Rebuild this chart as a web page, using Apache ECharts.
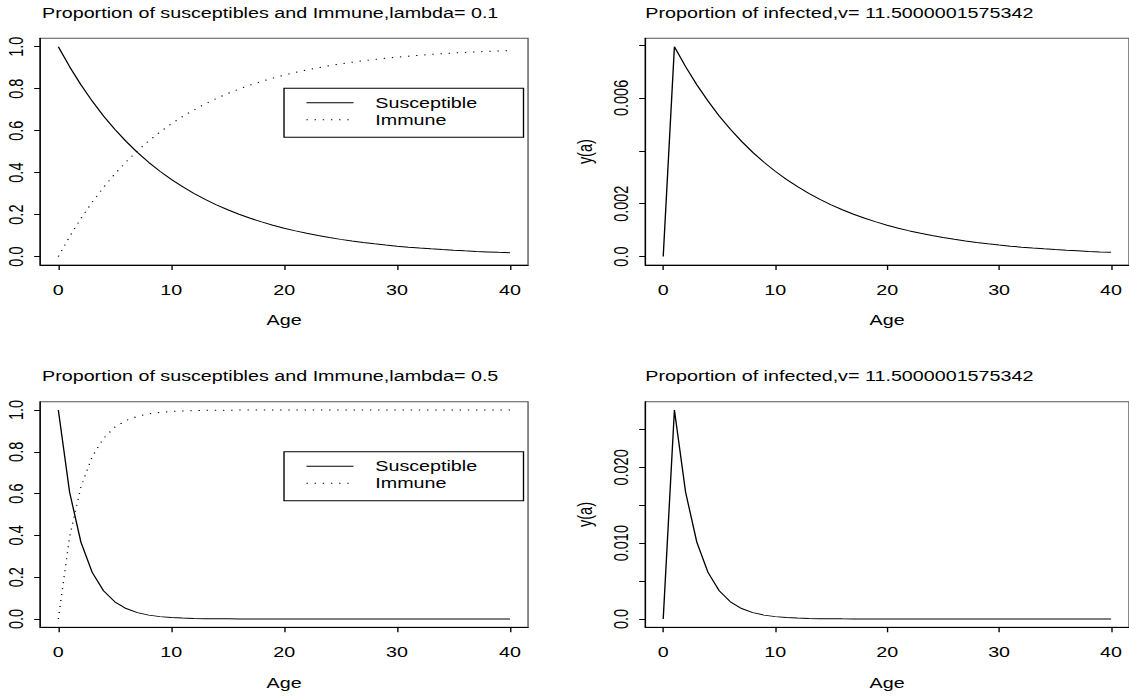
<!DOCTYPE html>
<html>
<head>
<meta charset="utf-8">
<title>Susceptible, immune and infected proportions by age</title>
<script src="https://cdn.jsdelivr.net/npm/echarts@6/dist/echarts.min.js"></script>
<style>
  html, body { margin: 0; padding: 0; background: #fff; }
  /* The plot device is wider than tall: the figure is laid out at 830 px and stretched to 1129 px */
  #frame { width: 1129px; height: 696px; overflow: hidden; position: relative; }
  #chart { width: 830px; height: 696px; transform: scaleX(1.36024); transform-origin: 0 0; }
</style>
</head>
<body>
<div id="frame"><div id="chart"></div></div>
<script>
// Age in years
const ages = [0,1,2,3,4,5,6,7,8,9,10,11,12,13,14,15,16,17,18,19,20,
              21,22,23,24,25,26,27,28,29,30,31,32,33,34,35,36,37,38,39,40];

// Force of infection lambda = 0.1
const susLow = [1.0000,0.9048,0.8187,0.7408,0.6703,0.6065,0.5488,0.4966,0.4493,0.4066,0.3679,
                0.3329,0.3012,0.2725,0.2466,0.2231,0.2019,0.1827,0.1653,0.1496,0.1353,
                0.1225,0.1108,0.1003,0.0907,0.0821,0.0743,0.0672,0.0608,0.0550,0.0498,
                0.0450,0.0408,0.0369,0.0334,0.0302,0.0273,0.0247,0.0224,0.0202,0.0183];
const immLow = [0.0000,0.0952,0.1813,0.2592,0.3297,0.3935,0.4512,0.5034,0.5507,0.5934,0.6321,
                0.6671,0.6988,0.7275,0.7534,0.7769,0.7981,0.8173,0.8347,0.8504,0.8647,
                0.8775,0.8892,0.8997,0.9093,0.9179,0.9257,0.9328,0.9392,0.9450,0.9502,
                0.9550,0.9592,0.9631,0.9666,0.9698,0.9727,0.9753,0.9776,0.9798,0.9817];
const infLow = [0,0.007937,0.007182,0.006498,0.005880,0.005320,0.004814,0.004356,0.003941,0.003567,0.003227,
                0.002920,0.002642,0.002390,0.002163,0.001957,0.001771,0.001603,0.001450,0.001312,0.001187,
                0.001075,0.000972,0.000880,0.000796,0.000720,0.000652,0.000589,0.000533,0.000482,0.000437,
                0.000395,0.000358,0.000324,0.000293,0.000265,0.000239,0.000217,0.000196,0.000177,0.000161];

// Force of infection lambda = 0.5
const susHigh = [1.0000,0.6065,0.3679,0.2231,0.1353,0.0821,0.0498,0.0302,0.0183,0.0111,0.0067,
                 0.0041,0.0025,0.0015,0.0009,0.0006,0.0003,0.0002,0.0001,0.0001,0,
                 0,0,0,0,0,0,0,0,0,0,
                 0,0,0,0,0,0,0,0,0,0];
const immHigh = [0.0000,0.3935,0.6321,0.7769,0.8647,0.9179,0.9502,0.9698,0.9817,0.9889,0.9933,
                 0.9959,0.9975,0.9985,0.9991,0.9994,0.9997,0.9998,0.9999,0.9999,1,
                 1,1,1,1,1,1,1,1,1,1,
                 1,1,1,1,1,1,1,1,1,1];
const infHigh = [0,0.027569,0.016722,0.010142,0.006152,0.003731,0.002263,0.001373,0.000833,0.000505,0.000306,
                 0.000186,0.000113,0.000068,0.000041,0.000025,0.000015,0.000009,0.000006,0.000003,0.000002,
                 0.000001,0.000001,0,0,0,0,0,0,0,0,
                 0,0,0,0,0,0,0,0,0,0];

// Tick positions and labelled ticks
const ageTicks = [0, 10, 20, 30, 40];
const propTicks = [0, 0.2, 0.4, 0.6, 0.8, 1.0];
const infLowTicks = [0, 0.002, 0.004, 0.006, 0.008];
const infLowLabels = [0, 0.002, 0.006];
const infHighTicks = [0, 0.005, 0.010, 0.015, 0.020, 0.025];
const infHighLabels = [0, 0.010, 0.020];

const titles = [
  'Proportion of susceptibles and Immune,lambda= 0.1',
  'Proportion of infected,v= 11.5000001575342',
  'Proportion of susceptibles and Immune,lambda= 0.5',
  'Proportion of infected,v= 11.5000001575342'
];
const seriesNames = ['Susceptible', 'Immune'];

const FONT = '"Liberation Sans", Arial, Helvetica, sans-serif';
const FS = 14.5;
const INK = '#000';

// Axis range padded by 4% on each side of the data range
function padded(...arrays) {
  const all = [].concat(...arrays);
  const lo = Math.min(...all), hi = Math.max(...all);
  const d = (hi - lo) * 0.04;
  return { min: lo - d, max: hi + d };
}
const pairs = (ys) => ages.map((a, i) => [a, ys[i]]);

const ageRange = padded(ages);
const gridW = 358.6;
const grids = [
  { left: 29.6,  top: 38.3,  width: gridW, height: 226.7 },
  { left: 474.4, top: 38.3,  width: gridW, height: 226.7 },
  { left: 29.6,  top: 401.7, width: gridW, height: 225.6 },
  { left: 474.4, top: 401.7, width: gridW, height: 225.6 }
].map(g => Object.assign({ show: true, borderColor: '#555', borderWidth: 1, backgroundColor: 'transparent' }, g));

const textBase = { color: INK, fontFamily: FONT, fontSize: FS };

function xAxisFor(i, nameGap) {
  return {
    type: 'value', gridIndex: i, min: ageRange.min, max: ageRange.max,
    name: 'Age', nameLocation: 'middle', nameGap: nameGap, nameTextStyle: textBase,
    axisLine: { show: true, onZero: false, lineStyle: { color: INK, width: 1 } },
    axisTick: { show: true, customValues: ageTicks, length: 5, lineStyle: { color: INK, width: 1 } },
    axisLabel: Object.assign({ customValues: ageTicks, margin: 17, formatter: v => String(v) }, textBase),
    splitLine: { show: false }
  };
}

function yAxisFor(i, range, ticks, labels, fmt, name) {
  return {
    type: 'value', gridIndex: i, min: range.min, max: range.max,
    name: name || '', nameLocation: 'middle', nameGap: 36.5, nameRotate: 90, nameTextStyle: textBase,
    axisLine: { show: true, onZero: false, lineStyle: { color: INK, width: 1 } },
    axisTick: { show: true, customValues: ticks, length: 4.5, lineStyle: { color: INK, width: 1 } },
    axisLabel: Object.assign({ customValues: labels, rotate: 90, margin: 10, formatter: fmt }, textBase),
    splitLine: { show: false }
  };
}

const propFmt = v => v.toFixed(1);
const infFmt = v => (v === 0 ? '0.0' : v.toFixed(3));

const solid = { color: INK, width: 1, type: 'solid' };
const dotted = { color: INK, width: 1, type: [1, 5] };

function lineSeries(name, xi, ys, style) {
  return {
    name: name, type: 'line', xAxisIndex: xi, yAxisIndex: xi,
    data: pairs(ys), symbol: 'none', showSymbol: false, smooth: false,
    lineStyle: style, itemStyle: { color: INK }, silent: true, animation: false
  };
}

// Legend keys show only the line sample, no point symbol
function legendAt(top) {
  return {
    left: 208.8, top: top, orient: 'vertical', data: seriesNames, selectedMode: false,
    itemWidth: 34.6, itemHeight: 14, itemGap: 0,
    itemStyle: { opacity: 0, borderWidth: 0 },
    lineStyle: { width: 1, color: INK },
    padding: [6, 34, 9, 16], borderColor: INK, borderWidth: 1, backgroundColor: '#fff',
    textStyle: Object.assign({ padding: [0, 0, 0, 11], lineHeight: 17 }, textBase)
  };
}

const option = {
  animation: false,
  backgroundColor: '#fff',
  title: [
    { text: titles[0], left: 30.9,  top: 5,     padding: 0 },
    { text: titles[1], left: 474.4, top: 5,     padding: 0 },
    { text: titles[2], left: 30.9,  top: 368.5, padding: 0 },
    { text: titles[3], left: 474.4, top: 368.5, padding: 0 }
  ].map(t => Object.assign(t, { textStyle: Object.assign({ fontWeight: 'normal' }, textBase) })),
  grid: grids,
  xAxis: [xAxisFor(0, 47), xAxisFor(1, 47), xAxisFor(2, 48.5), xAxisFor(3, 48.5)],
  yAxis: [
    yAxisFor(0, padded(susLow, immLow), propTicks, propTicks, propFmt),
    yAxisFor(1, padded(infLow), infLowTicks, infLowLabels, infFmt, 'y(a)'),
    yAxisFor(2, padded(susHigh, immHigh), propTicks, propTicks, propFmt),
    yAxisFor(3, padded(infHigh), infHighTicks, infHighLabels, infFmt, 'y(a)')
  ],
  legend: [legendAt(88.3), legendAt(451.7)],
  series: [
    lineSeries(seriesNames[0], 0, susLow, solid),
    lineSeries(seriesNames[1], 0, immLow, dotted),
    lineSeries('y(a) lambda 0.1', 1, infLow, solid),
    lineSeries(seriesNames[0], 2, susHigh, solid),
    lineSeries(seriesNames[1], 2, immHigh, dotted),
    lineSeries('y(a) lambda 0.5', 3, infHigh, solid)
  ]
};

const chart = echarts.init(document.getElementById('chart'), null, { renderer: 'svg', width: 830, height: 696 });
chart.setOption(option);
</script>
</body>
</html>
